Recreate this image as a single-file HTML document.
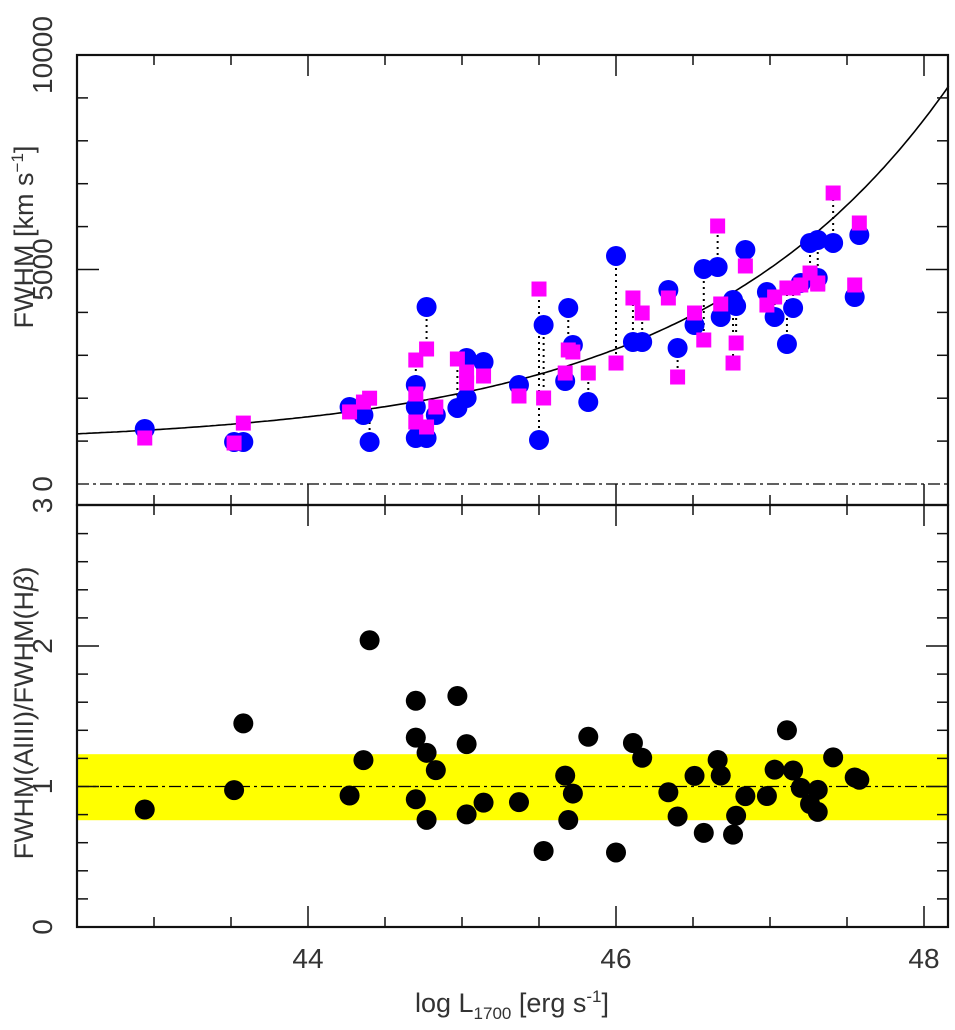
<!DOCTYPE html>
<html><head><meta charset="utf-8"><style>
html,body{margin:0;padding:0;background:#fff;}
svg text{font-family:"Liberation Sans",sans-serif;fill:#333;}
</style></head><body>
<svg id="chart" width="955" height="1030" xmlns="http://www.w3.org/2000/svg">
<g id="bottomBand"></g>
<g id="marks"></g>
<g id="axes"></g>
</svg>
<script>
// data: log L1700, FWHM(Hbeta) [blue], FWHM(AlIII) [magenta]
const logL = [42.94,43.52,43.58,44.27,44.36,44.40,44.70,44.70,44.70,44.77,44.77,44.83,44.97,45.03,45.03,45.14,45.37,45.50,45.53,45.67,45.69,45.72,45.82,46.00,46.11,46.17,46.34,46.40,46.51,46.57,46.66,46.68,46.78,46.76,46.84,46.98,47.03,47.11,47.15,47.20,47.26,47.31,47.31,47.41,47.58,47.55];
const fwhmHb = [1282,980,980,1795,1608,980,2308,1795,1072,4126,1072,1608,1772,2005,2937,2844,2308,1026,3706,2401,4103,3240,1911,5315,3310,3310,4522,3170,3706,5012,5058,3893,4149,4289,5455,4475,3893,3263,4103,4685,5618,4802,5688,5618,5804,4359];
const fwhmAl = [1072,955,1420,1680,1910,2000,2098,2890,1445,3147,1329,1795,2914,2610,2354,2517,2051,4545,2005,2587,3124,3077,2587,2820,4336,3986,4336,2494,3986,3357,6014,4196,3287,2820,5082,4172,4359,4569,4569,4639,4918,4685,4660,6783,6084,4639];
const xTicks = [44,46,48];
const yTopTicks = [10000,5000,0];
const yTopTickLabels = ["10000","5000","0"];
const yBotTicks = [0,1,2,3];
const bandLow = 0.76, bandHigh = 1.23;
const fitA = 905, fitB = 265, fitK = 0.61;

const NS = "http://www.w3.org/2000/svg";
const L = 77, R = 948, T1 = 55, B1 = 505, T2 = 505, B2 = 927;
const X = v => L + (v - 42.5) * 154;
const Y1 = v => 484 - v * 0.04290;
const Y2 = v => 927 - v * 140.5;
function mk(tag, attrs, parent){const e=document.createElementNS(NS,tag);for(const k in attrs)e.setAttribute(k,attrs[k]);parent.appendChild(e);return e;}
const axes = document.getElementById('axes'), marks = document.getElementById('marks'), bandG = document.getElementById('bottomBand');

let band = mk('rect',{x:L,y:Y2(bandHigh),width:R-L,height:Y2(bandLow)-Y2(bandHigh),fill:'#ffff00'},bandG);


let dd1 = mk('line',{x1:L,x2:R,y1:Y1(0),y2:Y1(0),stroke:'#000','stroke-width':1.3,'stroke-dasharray':'12,4,3,4'},bandG);


let dd2 = mk('line',{x1:L,x2:R,y1:Y2(1),y2:Y2(1),stroke:'#000','stroke-width':1.3,'stroke-dasharray':'12,4,3,4'},bandG);



let d='';
for(let v=42.5; v<=48.17; v+=0.02){const y=fitA+fitB*Math.exp(fitK*(v-42.5));d+=(d?'L':'M')+X(v).toFixed(1)+','+Y1(y).toFixed(1);}
let curve = mk('path',{d:d,fill:'none',stroke:'#000','stroke-width':1.6},marks);



logL.forEach((v,i)=>{
  const c = mk('line',{x1:X(v),x2:X(v),y1:Y1(fwhmHb[i]),y2:Y1(fwhmAl[i]),stroke:'#000','stroke-width':2,'stroke-dasharray':'2,4'},marks);
  
  
});
logL.forEach((v,i)=>{
  const c = mk('circle',{cx:X(v),cy:Y1(fwhmHb[i]),r:10,fill:'#0000ff'},marks);
  
  
});
logL.forEach((v,i)=>{
  const s = mk('rect',{x:X(v)-7.5,y:Y1(fwhmAl[i])-7.5,width:15,height:15,fill:'#ff00ff'},marks);
  
  
});
logL.forEach((v,i)=>{
  const r = fwhmAl[i]/fwhmHb[i];
  if(r>3) return;
  const c = mk('circle',{cx:X(v),cy:Y2(r),r:10,fill:'#000'},marks);
  
  
});

let f1 = mk('rect',{x:L,y:T1,width:R-L,height:B1-T1,fill:'none',stroke:'#111','stroke-width':2.2},axes);


let f2 = mk('rect',{x:L,y:T2,width:R-L,height:B2-T2,fill:'none',stroke:'#111','stroke-width':2.2},axes);



for(let v=43; v<=48.01; v+=0.5){
  const maj = Math.abs(v-Math.round(v/2)*2)<0.01, len = maj?21:10, x=X(v);
  [[T1,1],[B1,-1],[T2,1],[B2,-1]].forEach(([y0,s])=>{
    const t=mk('line',{x1:x,x2:x,y1:y0,y2:y0+s*len,stroke:'#111','stroke-width':1.5},axes);
    
    
  });
}
xTicks.forEach(v=>{
  const t=mk('text',{x:X(v),y:968,'font-size':28,'text-anchor':'middle'},axes);t.textContent=v;
  
  
});
for(let v=1000; v<=10000; v+=1000){
  const maj = v%5000===0, len=maj?22:11;
  [[L,1],[R,-1]].forEach(([x0,s])=>{
    const t=mk('line',{x1:x0,x2:x0+s*len,y1:Y1(v),y2:Y1(v),stroke:'#111','stroke-width':1.5},axes);
    
    
  });
}
yTopTicks.forEach((v,i)=>{
  const y=Y1(v);
  const t=mk('text',{x:0,y:0,'font-size':28,'text-anchor':'middle',transform:`translate(52,${y}) rotate(-90)`},axes);
  t.textContent=yTopTickLabels[i];
  
  
});
for(let v=0.2; v<2.99; v+=0.2){
  const maj = Math.abs(v-Math.round(v))<0.01, len=maj?22:11;
  [[L,1],[R,-1]].forEach(([x0,s])=>{
    const t=mk('line',{x1:x0,x2:x0+s*len,y1:Y2(v),y2:Y2(v),stroke:'#111','stroke-width':1.5},axes);
    
    
  });
}
yBotTicks.forEach(v=>{
  const t=mk('text',{x:0,y:0,'font-size':28,'text-anchor':'middle',transform:`translate(52,${Y2(v)}) rotate(-90)`},axes);
  t.textContent=v;
  
  
});
</script>
<svg style="position:absolute;left:0;top:0" width="955" height="1030" xmlns="http://www.w3.org/2000/svg">
<text font-size="27" text-anchor="middle" transform="translate(33,237) rotate(-90)" style="font-family:'Liberation Sans',sans-serif;fill:#333">FWHM [km s<tspan font-size="17" dy="-10">−1</tspan><tspan dy="10">]</tspan></text>
<text font-size="27" text-anchor="middle" transform="translate(33,713) rotate(-90)" style="font-family:'Liberation Sans',sans-serif;fill:#333">FWHM(AlIII)/FWHM(H<tspan font-style="italic">β</tspan>)</text>
<text x="512" y="1012" font-size="27" text-anchor="middle" style="font-family:'Liberation Sans',sans-serif;fill:#333">log L<tspan font-size="17" dy="7">1700</tspan><tspan dy="-7"> [erg s</tspan><tspan font-size="17" dy="-10">-1</tspan><tspan dy="10">]</tspan></text>
</svg>
<style>body{position:relative;width:955px;height:1030px;overflow:hidden}#chart{position:absolute;left:0;top:0}</style>
</body></html>
